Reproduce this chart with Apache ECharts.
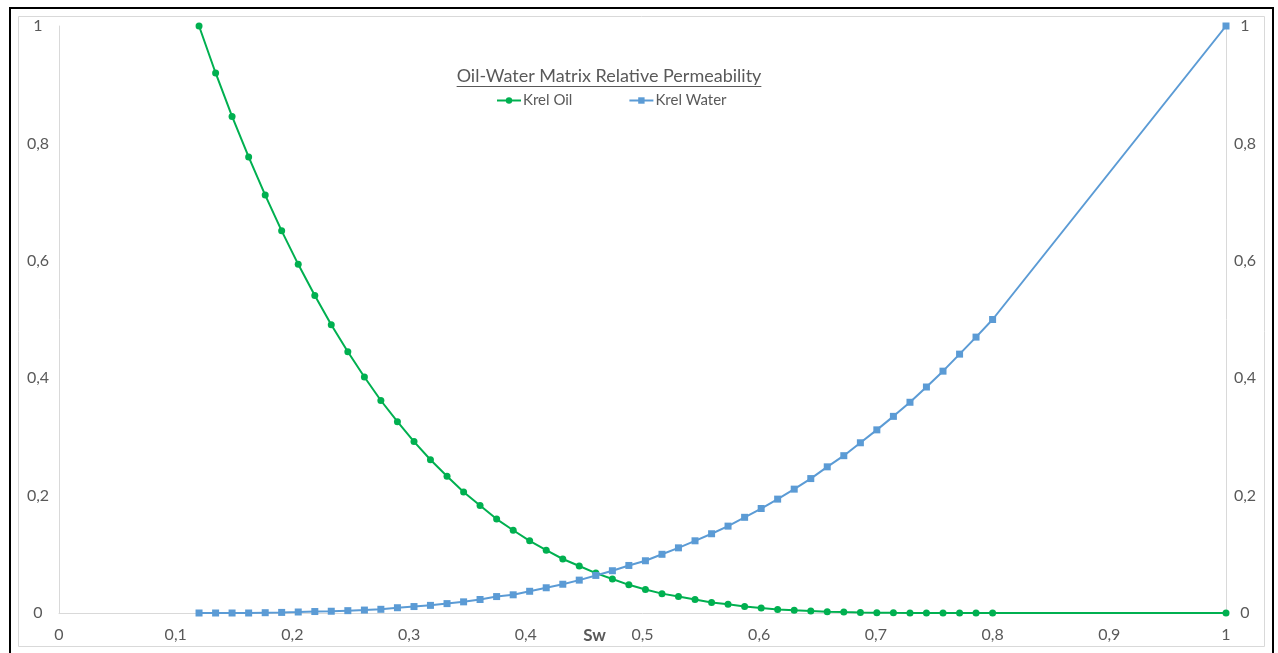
<!DOCTYPE html>
<html>
<head>
<meta charset="utf-8">
<title>Oil-Water Matrix Relative Permeability</title>
<script src="https://cdn.jsdelivr.net/npm/echarts@6/dist/echarts.min.js"></script>
<style>
  html, body { margin: 0; padding: 0; background: #ffffff; }
  #chart { width: 1278px; height: 653px; }
</style>
</head>
<body>
<div id="chart"></div>
<script>
// Water saturation values
const sw = [0.12, 0.1342, 0.1483, 0.1625, 0.1767, 0.1908, 0.2050, 0.2192, 0.2333, 0.2475,
  0.2617, 0.2758, 0.29, 0.3042, 0.3183, 0.3325, 0.3467, 0.3608, 0.375, 0.3892,
  0.4033, 0.4175, 0.4317, 0.4458, 0.46, 0.4742, 0.4883, 0.5025, 0.5167, 0.5308,
  0.545, 0.5592, 0.5733, 0.5875, 0.6017, 0.6158, 0.63, 0.6442, 0.6583, 0.6725,
  0.6867, 0.7008, 0.715, 0.7292, 0.7433, 0.7575, 0.7717, 0.7858, 0.8, 1.0];

// Oil relative permeability
const krelOil = [1.0, 0.920, 0.846, 0.777, 0.712, 0.651, 0.594, 0.541, 0.491, 0.445,
  0.402, 0.362, 0.326, 0.292, 0.261, 0.233, 0.206, 0.183, 0.160, 0.141,
  0.123, 0.107, 0.092, 0.080, 0.068, 0.058, 0.048, 0.040, 0.033, 0.028,
  0.023, 0.018, 0.015, 0.011, 0.0085, 0.006, 0.0045, 0.0033, 0.0022, 0.0015,
  0.001, 0.0006, 0.0003, 0.0002, 0.0001, 0.00005, 0, 0, 0, 0];

// Water relative permeability
const krelWater = [0, 0, 0, 0, 0.0005, 0.001, 0.0017, 0.0025, 0.003, 0.004,
  0.005, 0.0063, 0.009, 0.011, 0.013, 0.016, 0.019, 0.023, 0.028, 0.031,
  0.037, 0.043, 0.049, 0.056, 0.064, 0.072, 0.081, 0.089, 0.100, 0.111,
  0.123, 0.135, 0.148, 0.163, 0.178, 0.194, 0.211, 0.229, 0.249, 0.268,
  0.290, 0.312, 0.335, 0.359, 0.385, 0.412, 0.441, 0.470, 0.500, 1.0];

const chartTitle = 'Oil-Water Matrix Relative Permeability';
const seriesNames = ['Krel Oil', 'Krel Water'];
const xAxisName = 'Sw';

const FONT = 'Lato, "Open Sans", sans-serif';
const TEXT_COLOR = '#595959';
const AXIS_COLOR = '#D9D9D9';

// Decimal comma tick labels
const fmt = v => String(Math.round(v * 10) / 10).replace('.', ',');

const pairs = (xs, ys) => xs.map((x, i) => [x, ys[i]]);

// Width of the title text, used for its underline
const TITLE_FONT = '18px ' + FONT;
const ctx = document.createElement('canvas').getContext('2d');
ctx.font = TITLE_FONT;
const titleWidth = ctx.measureText(chartTitle).width;
const titleCx = 609;

const chart = echarts.init(document.getElementById('chart'), null, { renderer: 'canvas' });

chart.setOption({
  backgroundColor: '#ffffff',
  animation: false,
  textStyle: { fontFamily: FONT },
  grid: { left: 59, right: 52, top: 26, bottom: 40, containLabel: false, outerBoundsMode: 'none' },
  legend: {
    data: seriesNames,
    left: 491,
    top: 88,
    itemGap: 56,
    itemWidth: 24,
    itemHeight: 8,
    textStyle: { color: TEXT_COLOR, fontSize: 15, fontFamily: FONT, padding: [0, 0, 0, -3] }
  },
  graphic: [
    {
      type: 'rect', silent: true, z: -1,
      shape: { x: 10, y: 8, width: 1263, height: 660 },
      style: { fill: 'none', stroke: '#000000', lineWidth: 2 }
    },
    {
      type: 'rect', silent: true, z: -1,
      shape: { x: 18.5, y: 16.5, width: 1246, height: 630 },
      style: { fill: 'none', stroke: '#D9D9D9', lineWidth: 1 }
    },
    {
      type: 'text', silent: true,
      x: titleCx, y: 76,
      style: {
        text: chartTitle, fill: TEXT_COLOR, font: TITLE_FONT,
        align: 'center', verticalAlign: 'middle'
      }
    },
    {
      type: 'line', silent: true,
      shape: { x1: titleCx - titleWidth / 2, y1: 86.5, x2: titleCx + titleWidth / 2, y2: 86.5 },
      style: { stroke: TEXT_COLOR, lineWidth: 1 }
    }
  ],
  xAxis: {
    type: 'value',
    min: 0, max: 1, interval: 0.1,
    name: xAxisName,
    nameLocation: 'middle',
    nameGap: 14,
    nameMoveOverlap: false,
    nameTextStyle: {
      color: TEXT_COLOR, fontSize: 17, fontWeight: 'bold', fontFamily: FONT,
      verticalAlign: 'top',
      padding: [0, 96, 0, 0]
    },
    axisLine: { show: true, lineStyle: { color: AXIS_COLOR, width: 1 } },
    axisTick: { show: false },
    splitLine: { show: false },
    axisLabel: { color: TEXT_COLOR, fontSize: 16, margin: 14, formatter: fmt }
  },
  yAxis: [
    {
      type: 'value', position: 'left',
      min: 0, max: 1, interval: 0.2,
      axisLine: { show: true, lineStyle: { color: AXIS_COLOR, width: 1 } },
      axisTick: { show: false },
      splitLine: { show: false },
      axisLabel: { color: TEXT_COLOR, fontSize: 16, margin: 21, align: 'center', formatter: fmt }
    },
    {
      type: 'value', position: 'right',
      min: 0, max: 1, interval: 0.2,
      axisLine: { show: true, lineStyle: { color: AXIS_COLOR, width: 1 } },
      axisTick: { show: false },
      splitLine: { show: false },
      axisLabel: { color: TEXT_COLOR, fontSize: 16, margin: 19, align: 'center', formatter: fmt }
    }
  ],
  series: [
    {
      name: seriesNames[0],
      type: 'line',
      yAxisIndex: 0,
      data: pairs(sw, krelOil),
      clip: false,
      symbol: 'circle',
      symbolSize: 7,
      color: '#00B050',
      itemStyle: { color: '#00B050' },
      lineStyle: { color: '#00B050', width: 2 },
      smooth: false
    },
    {
      name: seriesNames[1],
      type: 'line',
      yAxisIndex: 1,
      data: pairs(sw, krelWater),
      clip: false,
      symbol: 'rect',
      symbolSize: 7,
      color: '#5B9BD5',
      itemStyle: { color: '#5B9BD5' },
      lineStyle: { color: '#5B9BD5', width: 2 },
      smooth: false
    }
  ]
});
</script>
</body>
</html>
